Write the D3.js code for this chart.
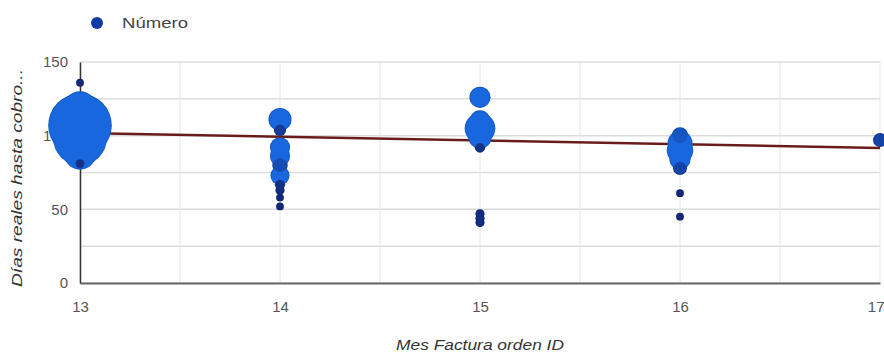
<!DOCTYPE html>
<html>
<head>
<meta charset="utf-8">
<script src="https://cdn.jsdelivr.net/npm/d3@7/dist/d3.min.js"></script>
<style>
  html, body { margin: 0; padding: 0; background: #fff; }
  svg { display: block; }
  text { font-family: "Liberation Sans", Arial, sans-serif; }
</style>
</head>
<body>
<svg id="chart" width="884" height="358"></svg>
<script>
// ---- data ----
const xTickValues = [13, 14, 15, 16, 17];
const xTickLabels = ["13", "14", "15", "16", "17"];
const yTickValues = [0, 50, 100, 150];
const seriesName = "Número";
const xTitle = "Mes Factura orden ID";
const yTitle = "Días reales hasta cobro...";

// bubble points: month, días, número
const pointMonth = [13, 13, 13, 13, 13, 13,
                    14, 14, 14, 14, 14, 14, 14, 14, 14, 14,
                    15, 15, 15, 15, 15, 15, 15, 15,
                    16, 16, 16, 16, 16, 16, 16,
                    17];
const pointDias  = [136, 118, 107, 98, 88, 81,
                    111, 104, 92, 86, 80, 73, 67, 63, 58, 52,
                    126, 110, 105, 99, 92, 47, 44, 41,
                    100, 95, 90, 84, 78, 61, 45,
                    97];
const pointNum   = [1, 30, 100, 70, 25, 2,
                    12, 3, 9, 9, 5, 8, 2, 1.5, 1, 1,
                    10, 10, 22, 12, 2, 1.5, 1.5, 1.5,
                    6, 14, 16, 10, 4, 1, 1,
                    4];

// trend line
const trendMonth = [13, 17];
const trendDias  = [101.8, 91.6];

// ---- chart ----
const svg = d3.select("#chart");
const W = 884, H = 358;
const m = { left: 80, right: 4, top: 62, bottom: 75 };
const x = d3.scaleLinear().domain([13, 17]).range([m.left, W - m.right]);
const y = d3.scaleLinear().domain([0, 150]).range([H - m.bottom, m.top]);
const r = d3.scaleSqrt().domain([0, 100]).range([0, 31]);
const col = d3.scaleLinear().domain([1, 8]).range(["#13287a", "#1867de"]).clamp(true);

// grid
const gx = d3.range(13, 17.01, 0.5);
const gy = d3.range(0, 150.01, 25);
svg.append("g").selectAll("line").data(gy).join("line")
  .attr("x1", m.left).attr("x2", W - m.right)
  .attr("y1", d => y(d)).attr("y2", d => y(d))
  .attr("stroke", "#dcdcdc").attr("stroke-width", 1.5);
svg.append("g").selectAll("line").data(gx).join("line")
  .attr("x1", d => x(d)).attr("x2", d => x(d))
  .attr("y1", y(150)).attr("y2", y(0))
  .attr("stroke", "#e4e4e4").attr("stroke-width", 1);

// axes
const xAxis = d3.axisBottom(x).tickValues(xTickValues)
  .tickFormat((d, i) => xTickLabels[i]).tickSize(0).tickPadding(18);
const gxa = svg.append("g").attr("transform", `translate(0,${y(0)})`).call(xAxis);
gxa.select(".domain").attr("stroke", "#666").attr("stroke-width", 2);
gxa.selectAll("text").attr("font-size", 15).attr("fill", "#555");
gxa.selectAll(".tick").filter(d => d === 17).select("text")
  .attr("text-anchor", "end").attr("x", 4);

const yAxis = d3.axisLeft(y).tickValues(yTickValues).tickSize(0).tickPadding(12);
const gya = svg.append("g").attr("transform", `translate(${m.left},0)`).call(yAxis);
gya.select(".domain").attr("stroke", "#333").attr("stroke-width", 1.5);
gya.selectAll("text").attr("font-size", 15).attr("fill", "#555");

// trend line
const line = d3.line().x(d => x(d[0])).y(d => y(d[1]));
svg.append("path")
  .datum(trendMonth.map((d, i) => [d, trendDias[i]]))
  .attr("d", line).attr("fill", "none")
  .attr("stroke", "#6a1c1c").attr("stroke-width", 2.5);

// bubbles: outline layer below, fill layer above (merged silhouettes)
const pts = pointMonth.map((d, i) => ({ mo: d, dias: pointDias[i], n: pointNum[i] }))
  .sort((a, b) => b.n - a.n);
svg.append("g").selectAll("circle").data(pts).join("circle")
  .attr("cx", d => x(d.mo)).attr("cy", d => y(d.dias))
  .attr("r", d => r(d.n) + 0.8)
  .attr("fill", d => d3.color(col(d.n)).darker(0.5));
svg.append("g").selectAll("circle").data(pts).join("circle")
  .attr("cx", d => x(d.mo)).attr("cy", d => y(d.dias))
  .attr("r", d => r(d.n))
  .attr("fill", d => col(d.n));

// legend
svg.append("circle").attr("cx", 97).attr("cy", 23).attr("r", 6).attr("fill", "#0f3aa6");
svg.append("text").attr("x", 122).attr("y", 28).attr("font-size", 15)
  .attr("textLength", 66).attr("lengthAdjust", "spacingAndGlyphs")
  .attr("fill", "#444").text(seriesName);

// titles
svg.append("text").attr("x", 480).attr("y", 350)
  .attr("text-anchor", "middle").attr("font-size", 15).attr("font-style", "italic")
  .attr("textLength", 168).attr("lengthAdjust", "spacingAndGlyphs")
  .attr("fill", "#333").text(xTitle);
svg.append("text").attr("transform", "translate(22,178) rotate(-90)")
  .attr("text-anchor", "middle").attr("font-size", 15).attr("font-style", "italic")
  .attr("textLength", 218).attr("lengthAdjust", "spacingAndGlyphs")
  .attr("fill", "#333").text(yTitle);
</script>
</body>
</html>
